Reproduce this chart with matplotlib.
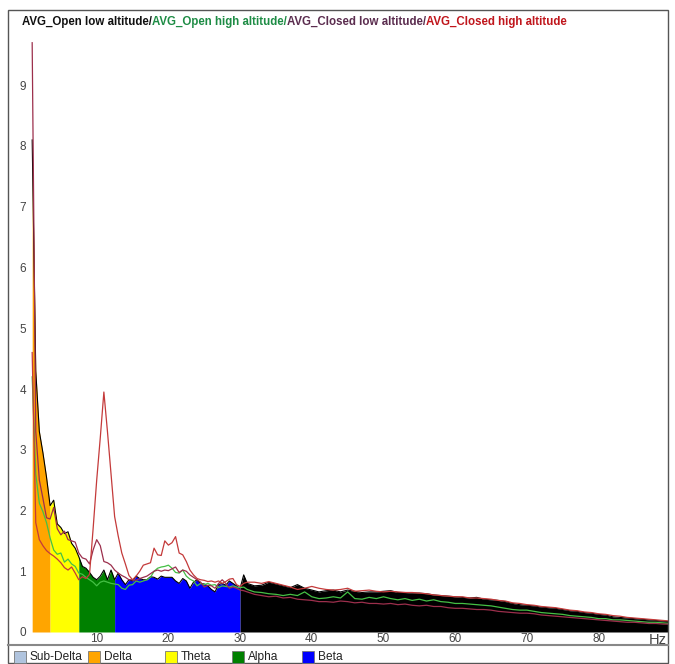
import numpy as np
import matplotlib
matplotlib.use("Agg")
import matplotlib.pyplot as plt
from matplotlib.patches import Rectangle
from matplotlib.lines import Line2D

# frequency grid: 0.5 Hz steps up to 31 Hz, 1 Hz steps after
freq = np.concatenate([np.arange(1.0, 31.01, 0.5), np.arange(32, 90.01, 1.0)])

# AVG_Open low altitude (filled area)
open_low = [
    8.1, 4.3, 3.3, 2.95, 2.55, 2.08, 2.17, 1.78, 1.72, 1.62,
    1.65, 1.46, 1.38, 1.24, 1.08, 1.05, 0.98, 0.9, 0.86, 0.92,
    1.02, 0.86, 1.02, 0.86, 0.97, 0.86, 0.78, 0.86, 0.84, 0.92,
    0.88, 0.86, 0.86, 0.91, 0.9, 0.87, 0.92, 0.9, 0.9, 0.9,
    0.84, 0.8, 0.88, 0.84, 0.72, 0.82, 0.86, 0.8, 0.79, 0.76,
    0.7, 0.66, 0.78, 0.8, 0.77, 0.84, 0.8, 0.76, 0.72, 0.94,
    0.8,
    0.76, 0.77, 0.82, 0.79, 0.76, 0.73, 0.78, 0.72, 0.69, 0.66,
    0.68, 0.69, 0.66, 0.69, 0.67, 0.65, 0.66, 0.66, 0.67, 0.68,
    0.65, 0.65, 0.64, 0.64, 0.63, 0.61, 0.6, 0.59, 0.58, 0.57,
    0.56, 0.57, 0.54, 0.53, 0.52, 0.5, 0.47, 0.45, 0.44, 0.43,
    0.41, 0.4, 0.39, 0.37, 0.35, 0.34, 0.32, 0.31, 0.29, 0.28,
    0.25, 0.24, 0.23, 0.22, 0.21, 0.2, 0.19, 0.18, 0.17,
]

# AVG_Open high altitude
open_high = [
    4.2, 2.6, 2.12, 1.98, 1.8, 1.55, 1.35, 1.28, 1.3, 1.15,
    1.2, 1.12, 1.08, 0.97, 0.95, 0.9, 0.86, 0.82, 0.76, 0.82,
    0.84, 0.82, 0.8, 0.79, 0.78, 0.72, 0.7, 0.77, 0.78, 0.84,
    0.82, 0.84, 0.86, 0.9, 1.0, 1.05, 1.07, 1.08, 1.1, 1.05,
    0.98, 0.97, 1.02, 0.92, 0.87, 0.84, 0.76, 0.8, 0.78, 0.8,
    0.77, 0.78, 0.73, 0.76, 0.75, 0.74, 0.76, 0.74, 0.73, 0.74,
    0.7,
    0.66, 0.65, 0.63, 0.62, 0.6, 0.62, 0.6, 0.66, 0.58, 0.55,
    0.56, 0.58, 0.56, 0.66, 0.55, 0.54, 0.57, 0.55, 0.58, 0.55,
    0.53, 0.55, 0.52, 0.54, 0.51, 0.53, 0.5, 0.49, 0.47, 0.47,
    0.46, 0.45, 0.44, 0.43, 0.41, 0.39, 0.37, 0.36, 0.36, 0.34,
    0.32, 0.31, 0.3, 0.29, 0.27, 0.26, 0.25, 0.24, 0.22, 0.22,
    0.2, 0.2, 0.19, 0.18, 0.17, 0.16, 0.16, 0.15, 0.14,
]

# AVG_Closed low altitude
closed_low = [
    9.7, 3.3, 2.5, 2.2, 1.88, 1.86, 2.05, 1.7, 1.6, 1.66,
    1.52, 1.5, 1.48, 1.3, 1.22, 1.2, 1.12, 1.35, 1.52, 1.42,
    1.16, 1.14, 1.1, 1.02, 0.97, 0.93, 0.9, 0.86, 0.86, 0.85,
    0.88, 0.9, 0.92, 0.96, 1.0, 1.02, 1.0, 1.02, 1.01, 1.04,
    1.07, 0.98, 1.02, 1.0, 0.94, 0.9, 0.86, 0.82, 0.74, 0.77,
    0.76, 0.72, 0.8, 0.86, 0.8, 0.72, 0.74, 0.72, 0.69, 0.68,
    0.66,
    0.62, 0.6, 0.58, 0.59, 0.56, 0.57, 0.54, 0.53, 0.52, 0.5,
    0.5, 0.49, 0.51, 0.5, 0.48, 0.49, 0.47, 0.47, 0.46, 0.47,
    0.45, 0.46, 0.44, 0.43, 0.44, 0.42, 0.42, 0.4, 0.39, 0.39,
    0.38, 0.37, 0.37, 0.36, 0.34, 0.33, 0.32, 0.31, 0.31, 0.3,
    0.28, 0.27, 0.26, 0.25, 0.24, 0.23, 0.22, 0.21, 0.2, 0.19,
    0.18, 0.17, 0.16, 0.16, 0.15, 0.14, 0.14, 0.13, 0.13,
]

# AVG_Closed high altitude
closed_high = [
    4.6, 1.8, 1.52, 1.42, 1.34, 1.29, 1.25, 1.2, 1.14, 1.06,
    1.02, 1.07, 0.97, 0.86, 0.91, 0.88, 0.95, 1.7, 2.5, 3.2,
    3.95, 3.3, 2.6, 1.9, 1.58, 1.3, 1.12, 0.93, 0.86, 0.92,
    1.0, 1.1, 1.12, 1.14, 1.38, 1.27, 1.26, 1.5, 1.43, 1.47,
    1.57, 1.3, 1.27, 1.16, 1.02, 0.94, 0.88, 0.86, 0.85, 0.83,
    0.84, 0.82, 0.84, 0.8, 0.83, 0.87, 0.88, 0.78, 0.75, 0.8,
    0.82,
    0.82, 0.8, 0.83, 0.8, 0.77, 0.74, 0.7, 0.72, 0.75, 0.72,
    0.7, 0.69, 0.7, 0.72, 0.67, 0.68, 0.69, 0.67, 0.66, 0.67,
    0.66, 0.65, 0.65, 0.64, 0.63, 0.61, 0.6, 0.59, 0.58, 0.58,
    0.56, 0.56, 0.55, 0.54, 0.52, 0.51, 0.48, 0.47, 0.45, 0.44,
    0.42, 0.41, 0.4, 0.38, 0.36, 0.35, 0.33, 0.32, 0.3, 0.29,
    0.27, 0.26, 0.24, 0.23, 0.22, 0.21, 0.2, 0.19, 0.18,
]

# EEG bands painted under the open low altitude curve
band_names = ["Sub-Delta", "Delta", "Theta", "Alpha", "Beta"]
band_colors = ["#b0c4de", "#ffa500", "#ffff00", "#008000", "#0000ff"]
band_edges = [1.0, 3.5, 7.5, 12.5, 30.0]

title_parts = ["AVG_Open low altitude/", "AVG_Open high altitude/",
               "AVG_Closed low altitude/", "AVG_Closed high altitude"]
title_colors = ["#111111", "#1e8c45", "#5b2d4f", "#c0161c"]

x_ticks = [10, 20, 30, 40, 50, 60, 70, 80]
y_ticks = [0, 1, 2, 3, 4, 5, 6, 7, 8, 9]

W, H = 675, 664
plain = ["Liberation Sans", "DejaVu Sans"]


def px(x, y):
    # pixel position (from top left) to figure fraction
    return x / W, 1 - y / H


fig = plt.figure(figsize=(W / 100, H / 100), dpi=100)
fig.patch.set_facecolor("white")

# outer frame and separator above the legend
fig.add_artist(Rectangle(px(8, 663), 660 / W, 653 / H, transform=fig.transFigure,
                         fill=False, edgecolor="#555555", lw=1.0))
fig.add_artist(Line2D([8 / W, 668 / W], [1 - 645 / H] * 2, transform=fig.transFigure,
                      color="#888888", lw=1.5))

ax = fig.add_axes([30 / W, 32 / H, 638 / W, 594 / H])
freq_arr = np.array(freq)
k = np.array(open_low)

# coloured bands, then black for the rest
edges = band_edges + [90.0]
fills = band_colors[1:] + ["black"]
for lo, hi, col in zip(edges[:-1], edges[1:], fills):
    mask = (freq_arr >= lo) & (freq_arr <= hi)
    ax.fill_between(freq_arr, 0, k, where=mask, color=col, lw=0, interpolate=False)

ax.plot(freq_arr, k, color="black", lw=0.8)
ax.plot(freq_arr, open_high, color="#45c045", lw=0.9)
ax.plot(freq_arr, closed_low, color="#9c2f4c", lw=0.9)
ax.plot(freq_arr, closed_high, color="#c43a3a", lw=0.9)

ax.set_xlim(0.697, 89.68)
ax.set_ylim(0, 594 / 60.75)
for s in ax.spines.values():
    s.set_visible(False)
ax.set_xticks(x_ticks)
ax.set_yticks(y_ticks)
ax.tick_params(length=0, labelsize=8.5, labelcolor="#444444", pad=3)
for lab in ax.get_xticklabels() + ax.get_yticklabels():
    lab.set_family(plain)
ax.tick_params(axis="x", pad=1)
ax.set_facecolor("none")

fig.text(*px(667, 640), "Hz", ha="right", va="center", fontsize=10.5,
         color="#444444", family=plain)

# multi-coloured title, each part placed after the previous one
prev = fig.text(*px(22, 22), title_parts[0], ha="left", va="center",
                fontsize=8.3, fontweight="bold", color=title_colors[0], family=plain)
for part, col in zip(title_parts[1:], title_colors[1:]):
    prev = ax.annotate(part, xy=(1, 0.5), xycoords=prev, ha="left", va="center",
                       fontsize=8.3, fontweight="bold", color=col, family=plain,
                       annotation_clip=False)

# band legend along the bottom
legend_x = [14, 88, 165, 232, 302]
for name, col, lx in zip(band_names, band_colors, legend_x):
    fig.add_artist(Rectangle(px(lx, 663), 12 / W, 12 / H, transform=fig.transFigure,
                             facecolor=col, edgecolor="#777777", lw=0.6))
    fig.text(*px(lx + 16, 657), name, ha="left", va="center", fontsize=8.6,
             color="#222222", family=plain)

fig.savefig("out.png", dpi=100)
